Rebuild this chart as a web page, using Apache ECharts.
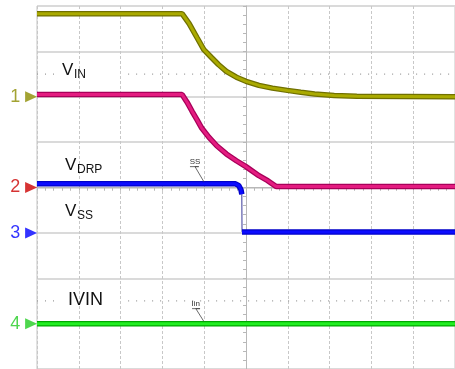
<!DOCTYPE html>
<html>
<head>
<meta charset="utf-8">
<script src="https://cdn.jsdelivr.net/npm/echarts@6/dist/echarts.min.js"></script>
<style>
html,body{margin:0;padding:0;background:#fff;}
#c{width:455px;height:369px;}
</style>
</head>
<body>
<div id="c"></div>
<script>
// Oscilloscope traces, in divisions from screen centre (x: time div, y: vertical div)
const vinX  = [-5, -1.53, -1.36, -1.17, -1.01, -0.82, -0.66, -0.47, -0.23, 0, 0.31, 0.63, 0.99, 1.31, 1.64, 2.11, 2.65, 5];
const vinY  = [3.83, 3.83, 3.61, 3.30, 3.04, 2.86, 2.71, 2.56, 2.43, 2.34, 2.25, 2.19, 2.14, 2.10, 2.06, 2.03, 2.01, 2.00];
const vdrpX = [-5, -1.53, -1.41, -1.29, -1.17, -1.06, -0.89, -0.70, -0.47, -0.23, 0, 0.31, 0.52, 0.72, 5];
const vdrpY = [2.05, 2.05, 1.88, 1.68, 1.49, 1.31, 1.11, 0.92, 0.74, 0.59, 0.46, 0.26, 0.15, 0.02, 0.02];
const vssHighX = [-5, -0.25, -0.17, -0.12, -0.10];
const vssHighY = [0.08, 0.08, 0.04, -0.05, -0.15];
const vssEdgeX = [-0.10, -0.095];
const vssEdgeY = [-0.15, -0.98];
const vssLowX = [-0.095, 5];
const vssLowY = [-0.98, -0.98];
const ivinX = [-5, 5];
const ivinY = [-3.0, -3.0];
// channel ground markers
const chNames = ['1', '2', '3', '4'];
const chLevels = [2, 0, -1, -3];
// cursor (dotted) levels
const cursorLevels = [2.5, -2.5];
// trace names
const labelMain = ['V', 'V', 'V', 'IVIN'];
const labelSub = ['IN', 'DRP', 'SS', ''];
// small probe annotations
const noteText = ['SS', 'Iin'];
const noteX = [[-1.34, -1.13, -1.22, -1.01], [-1.29, -1.10, -1.20, -1.01]];
const noteY = [[0.46, 0.46, 0.46, 0.13], [-2.67, -2.67, -2.67, -2.95]];

const zip = (xs, ys) => xs.map((x, i) => [x, ys[i]]);

const traceCol = [
  {outer: '#707000', inner: '#aaaa00', mark: '#8c8c00'},
  {outer: '#a8005a', inner: '#e41c80', mark: '#cc0000'},
  {outer: '#0000c8', inner: '#0c0cff', mark: '#0000ff'},
  {outer: '#00a800', inner: '#22ee22', mark: '#22cc22'}
];

function trace(data, c, w) {
  return [
    {type: 'line', data: data, showSymbol: false, silent: true, z: 3,
     lineStyle: {color: c.outer, width: w}},
    {type: 'line', data: data, showSymbol: false, silent: true, z: 4,
     lineStyle: {color: c.inner, width: w - 2.5}}
  ];
}

const series = [];
// dotted cursor lines with gap behind labels
cursorLevels.forEach(l => {
  series.push({type: 'line', showSymbol: false, silent: true, z: 1,
    data: [[-5, l], [-4.58, l], null, [-2.82, l], [5, l]],
    lineStyle: {color: '#9a9a9a', width: 1.2, type: [1, 7]}});
});
series.push(...trace(zip(vinX, vinY), traceCol[0], 5.5));
series.push(...trace(zip(vdrpX, vdrpY), traceCol[1], 5.5));
series.push(...trace(zip(vssHighX, vssHighY), traceCol[2], 5.5));
series.push({type: 'line', data: zip(vssEdgeX, vssEdgeY), showSymbol: false, silent: true, z: 3,
  lineStyle: {color: '#3a3a9a', width: 1}});
series.push(...trace(zip(vssLowX, vssLowY), traceCol[2], 5.5));
series.push(...trace(zip(ivinX, ivinY), traceCol[3], 5.5));

noteText.forEach((t, k) => {
  const d = zip(noteX[k], noteY[k]).map((p, i) => i === 2 ? {value: p, label: {show: true, formatter: t, position: 'top', distance: 1, fontSize: 8, color: '#333', fontFamily: 'Liberation Sans'}} : {value: p});
  series.push({type: 'line', data: d, showSymbol: true, symbol: 'circle', symbolSize: 0.1, silent: true, z: 5,
    lineStyle: {color: '#444', width: 0.8}, itemStyle: {color: '#444'}});
});

// channel markers
series.push({type: 'scatter', clip: false, silent: true, z: 6,
  data: chLevels.map((l, i) => ({
    value: [-5.14, l],
    itemStyle: {color: traceCol[i].mark},
    label: {show: true, position: 'left', distance: 5, formatter: chNames[i],
      fontSize: 18, color: traceCol[i].mark, fontFamily: 'Liberation Sans'}
  })),
  symbol: 'triangle', symbolSize: [11, 12], symbolRotate: -90});

const labelPos = [[62, 72], [65, 167], [65, 213], [68, 302]];
const graphic = [];
labelMain.forEach((m, i) => {
  const [x, y] = labelPos[i];
  const big = i === 3 ? 18 : 17;
  graphic.push({type: 'text', left: x, top: y - big * 0.6, z: 100, style: {text: m, fontSize: big, fontFamily: 'Liberation Sans', fill: '#111'}});
  if (labelSub[i]) {
    graphic.push({type: 'text', left: x + 12, top: y + 3.5 - 12 * 0.6, z: 100, style: {text: labelSub[i], fontSize: 12, fontFamily: 'Liberation Sans', fill: '#111'}});
  }
});

const chart = echarts.init(document.getElementById('c'), null, {renderer: 'canvas'});
chart.setOption({
  animation: false,
  backgroundColor: '#ffffff',
  grid: {left: 37, top: 6, width: 426, height: 366, show: true, borderColor: '#c4c4c4', borderWidth: 1, backgroundColor: 'transparent'},
  xAxis: [
    {type: 'value', min: -5, max: 5, interval: 1,
     axisLine: {show: true, onZero: true, lineStyle: {color: '#b8b8b8', width: 1}},
     axisTick: {show: true, length: 3, lineStyle: {color: '#b8b8b8'}},
     minorTick: {show: true, splitNumber: 5, length: 3, lineStyle: {color: '#b8b8b8'}},
     axisLabel: {show: false},
     splitLine: {show: true, lineStyle: {color: '#c8c8c8', width: 1, type: [3, 2]}}},
    {type: 'value', min: -5, max: 5, interval: 1, position: 'top',
     axisLine: {show: false, onZero: true},
     axisTick: {show: true, inside: true, length: 3, lineStyle: {color: '#b8b8b8'}},
     minorTick: {show: true, splitNumber: 5, length: 3, lineStyle: {color: '#b8b8b8'}},
     axisLabel: {show: false}, splitLine: {show: false}}
  ],
  yAxis: [
    {type: 'value', min: -4, max: 4, interval: 1,
     axisLine: {show: true, onZero: true, lineStyle: {color: '#b8b8b8', width: 1}},
     axisTick: {show: true, length: 3, lineStyle: {color: '#b8b8b8'}},
     minorTick: {show: true, splitNumber: 5, length: 3, lineStyle: {color: '#b8b8b8'}},
     axisLabel: {show: false},
     splitLine: {show: true, lineStyle: {color: '#dadada', width: 2}}},
    {type: 'value', min: -4, max: 4, interval: 1, position: 'right',
     axisLine: {show: false, onZero: true},
     axisTick: {show: true, inside: true, length: 3, lineStyle: {color: '#b8b8b8'}},
     minorTick: {show: true, splitNumber: 5, length: 3, lineStyle: {color: '#b8b8b8'}},
     axisLabel: {show: false}, splitLine: {show: false}}
  ],
  graphic: graphic,
  series: series
});
</script>
</body>
</html>
